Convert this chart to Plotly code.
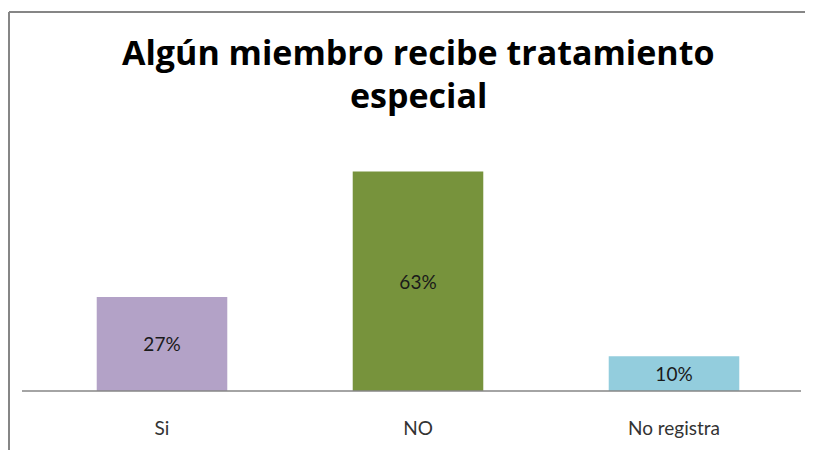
import plotly.graph_objects as go

categories = ['Si', 'NO', 'No registra']
values = [27, 63, 10]
labels = ['27%', '63%', '10%']
colors = ['#B3A2C7', '#77933C', '#93CDDD']
title_lines = ['Algún miembro recibe tratamiento', 'especial']

fig = go.Figure()

fig.add_trace(go.Bar(
    x=categories,
    y=values,
    marker=dict(color=colors, line=dict(width=0)),
    text=labels,
    textposition='inside',
    insidetextanchor='middle',
    textfont=dict(family='Lato', size=19, color='#1a1a1a'),
    hoverinfo='skip',
))

# title as two annotations so the line spacing can be set
title_y = [1 + 95 / 244, 1 + 52 / 244]
for line, yy in zip(title_lines, title_y):
    fig.add_annotation(
        text=f'<b>{line}</b>',
        xref='paper', yref='paper',
        x=384 / 768, y=yy,
        xanchor='center', yanchor='middle',
        showarrow=False,
        font=dict(family='Open Sans', size=34, color='#000000'),
    )

fig.update_layout(
    width=813,
    height=450,
    margin=dict(l=26, r=19, t=139, b=67),
    bargap=0.49,
    paper_bgcolor='white',
    plot_bgcolor='white',
    showlegend=False,
    xaxis=dict(
        showline=False,
        ticks='',
        ticklabelstandoff=24,
        tickfont=dict(family='Lato', size=19, color='#333333'),
    ),
    yaxis=dict(
        range=[0, 70],
        visible=False,
        showgrid=False,
        zeroline=False,
    ),
    shapes=[
        # axis line
        dict(type='line', xref='paper', yref='paper', x0=-12 / 768, x1=767 / 768,
             y0=0, y1=0, line=dict(color='#868686', width=1.5)),
        # chart frame (top and left)
        dict(type='line', xref='paper', yref='paper', x0=-25 / 768, x1=1.1,
             y0=1 + 135 / 244, y1=1 + 135 / 244, line=dict(color='#868686', width=2)),
        dict(type='line', xref='paper', yref='paper', x0=-25 / 768, x1=-25 / 768,
             y0=-80 / 244, y1=1 + 135 / 244, line=dict(color='#868686', width=2)),
    ],
)

fig.write_html("out.html")
